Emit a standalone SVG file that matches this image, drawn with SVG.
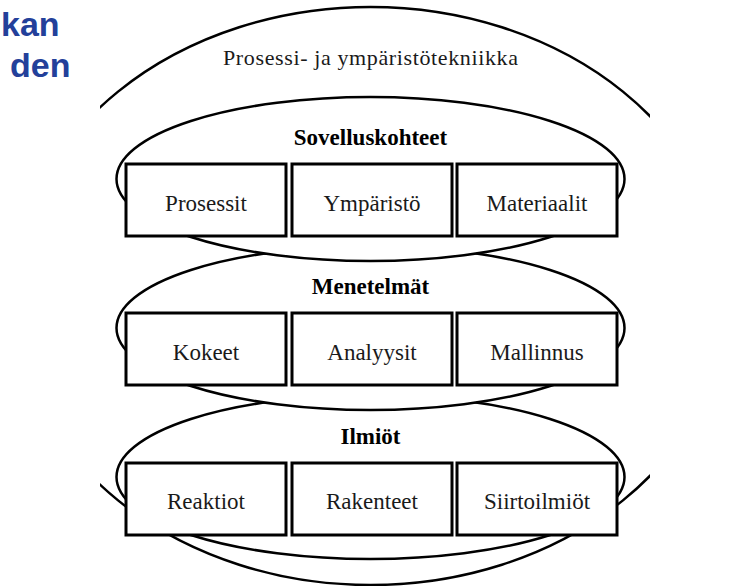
<svg xmlns="http://www.w3.org/2000/svg" width="736" height="586" viewBox="0 0 736 586">
<defs>
<style>
.ell{fill:#fff;stroke:#000;stroke-width:2.5}
.box{fill:#fff;stroke:#000;stroke-width:3}
.t{font-family:"Liberation Serif","Times New Roman",serif;font-size:23px;fill:#1a1a1a;text-anchor:middle}
.h{font-family:"Liberation Serif","Times New Roman",serif;font-size:23px;font-weight:bold;fill:#000;text-anchor:middle}
.blue{font-family:"Liberation Sans",Arial,sans-serif;font-size:34px;font-weight:bold;fill:#23409a;text-anchor:start}
</style>
<clipPath id="c"><rect x="100" y="0" width="550" height="586"/></clipPath>
</defs>
<rect width="736" height="586" fill="#fff"/>
<g id="title">
<text x="1" y="36" class="blue">kan</text>
<text x="10" y="77" class="blue">den</text>
</g>
<g id="outer">
<ellipse cx="370.5" cy="296" rx="357" ry="289" class="ell" clip-path="url(#c)"/>
<text x="370.5" y="65" class="t" style="font-size:22px" textLength="295" lengthAdjust="spacing">Prosessi- ja ympäristötekniikka</text>
</g>
<g id="ilmiot">
<ellipse cx="370.5" cy="477" rx="254" ry="82" class="ell"/>
<text x="370.5" y="444" class="h">Ilmiöt</text>
</g>
<g id="reaktiot"><rect x="126" y="463" width="160" height="72" class="box"/><text x="206" y="509" class="t">Reaktiot</text></g>
<g id="rakenteet"><rect x="292" y="463" width="160" height="72" class="box"/><text x="372" y="509" class="t">Rakenteet</text></g>
<g id="siirtoilmiot"><rect x="457" y="463" width="160" height="72" class="box"/><text x="537" y="509" class="t">Siirtoilmiöt</text></g>
<g id="menetelmat">
<ellipse cx="370.5" cy="328" rx="254" ry="82" class="ell"/>
<text x="370.5" y="294" class="h">Menetelmät</text>
</g>
<g id="kokeet"><rect x="126" y="313" width="160" height="72" class="box"/><text x="206" y="360" class="t">Kokeet</text></g>
<g id="analyysit"><rect x="292" y="313" width="160" height="72" class="box"/><text x="372" y="360" class="t">Analyysit</text></g>
<g id="mallinnus"><rect x="457" y="313" width="160" height="72" class="box"/><text x="537" y="360" class="t">Mallinnus</text></g>
<g id="sovelluskohteet">
<ellipse cx="370.5" cy="179" rx="254" ry="82" class="ell"/>
<text x="370.5" y="145" class="h">Sovelluskohteet</text>
</g>
<g id="prosessit"><rect x="126" y="164" width="160" height="72" class="box"/><text x="206" y="211" class="t">Prosessit</text></g>
<g id="ymparisto"><rect x="292" y="164" width="160" height="72" class="box"/><text x="372" y="211" class="t">Ympäristö</text></g>
<g id="materiaalit"><rect x="457" y="164" width="160" height="72" class="box"/><text x="537" y="211" class="t">Materiaalit</text></g>
</svg>
